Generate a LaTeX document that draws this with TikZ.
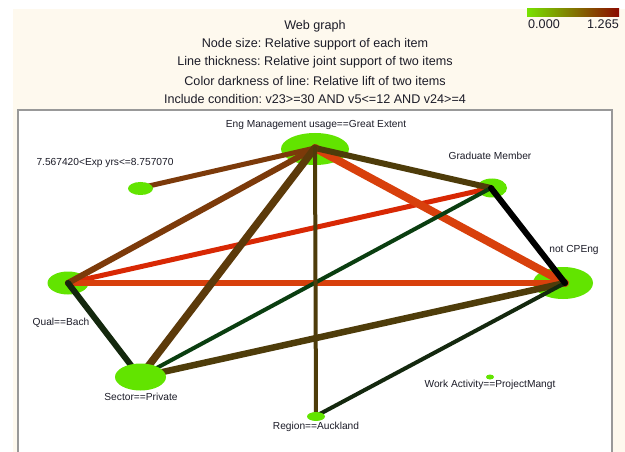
\documentclass[tikz,border=0pt]{standalone}
\usepackage{fontspec}
\setmainfont{Liberation Sans}
\usetikzlibrary{shapes.geometric}
\frenchspacing
\definecolor{cream}{RGB}{254,249,238}
\definecolor{nodegreen}{RGB}{98,228,0}
\definecolor{txt}{RGB}{28,28,40}
\definecolor{brownA}{RGB}{124,58,10}
\definecolor{brownB}{RGB}{92,58,10}
\definecolor{oliveC}{RGB}{78,60,10}
\definecolor{redA}{RGB}{216,40,4}
\definecolor{redB}{RGB}{216,64,12}
\definecolor{dgreenA}{RGB}{10,62,16}
\definecolor{dgreenB}{RGB}{20,40,14}
\definecolor{cbgreen}{RGB}{120,226,0}
\definecolor{cbmid}{RGB}{150,130,10}
\definecolor{cbred}{RGB}{140,10,0}
\tikzset{
  item/.style={ellipse, fill=nodegreen, draw=none, inner sep=0pt},
  lbl/.style={text=txt, font=\fontsize{10.2}{12}\selectfont\frenchspacing, inner sep=0pt},
  ttl/.style={text=txt, font=\fontsize{12.6}{14}\selectfont\frenchspacing, inner sep=0pt},
  edge/.style={line cap=round},
}
\begin{document}
\begin{tikzpicture}[x=1pt,y=-1pt]
\useasboundingbox (0,0) rectangle (625,452);
\fill[white] (0,0) rectangle (625,452);
\fill[cream] (13,9) rectangle (625,452);
\fill[white] (18,110) rectangle (612,452);
\draw[gray!80, line width=1.3pt] (18,452) -- (18,110) -- (612,110) -- (612,452);

% title
\node[ttl] (t1) at (315,26) {Web graph};
\node[ttl] (t2) at (315,44) {Node size: Relative support of each item};
\node[ttl] (t3) at (315,62) {Line thickness: Relative joint support of two items};
\node[ttl] (t4) at (315,81) {Color darkness of line: Relative lift of two items};
\node[ttl] (t5) at (315,99) {Include condition: v23>=30 AND v5<=12 AND v24>=4};

% colour bar
\shade[left color=cbgreen, middle color=cbmid, right color=cbred] (527,9) rectangle (619,17);
\node[ttl] (c0) at (544,24) {0.000};
\node[ttl] (c1) at (603,24) {1.265};

% nodes below edges
\node[item, minimum width=68pt, minimum height=32pt] (eng) at (315,149) {};
\node[item, minimum width=30pt, minimum height=19pt] (grad) at (492,188) {};
\node[item, minimum width=60pt, minimum height=32pt] (cpe) at (563,283) {};
\node[item, minimum width=41pt, minimum height=23pt] (qual) at (68,283) {};
\node[item, minimum width=8pt, minimum height=5pt] (work) at (490,377) {};

% hub coordinates
\coordinate (engh) at (315,148);
\coordinate (gradh) at (491,188);
\coordinate (cpeh) at (565,283);
\coordinate (qualh) at (68,283);
\coordinate (exph) at (140,188);
\coordinate (sech) at (140,377);
\coordinate (regh) at (316,416);

% edges
\draw[edge, redA, line width=5pt] (qualh) -- (gradh);
\draw[edge, redB, line width=6.5pt] (qualh) -- (cpeh);
\draw[edge, redB, line width=8pt] (engh) -- (cpeh);
\draw[edge, brownA, line width=5pt] (exph) -- (engh);
\draw[edge, brownA, line width=6pt] (qualh) -- (engh);
\draw[edge, dgreenB, line width=6pt] (qualh) -- (sech);
\draw[edge, oliveC, line width=6pt] (engh) -- (gradh);
\draw[edge, dgreenA, line width=4pt] (sech) -- (gradh);
\draw[edge, oliveC, line width=6.5pt] (sech) -- (cpeh);
\draw[edge, brownB, line width=7.5pt] (sech) -- (engh);
\draw[edge, oliveC, line width=4pt] (engh) -- (regh);
\draw[edge, dgreenB, line width=4pt] (regh) -- (cpeh);
\draw[edge, black, line width=6pt] (gradh) -- (cpeh);

% nodes above edges
\node[item, minimum width=25pt, minimum height=13pt] (exp) at (140.5,188.5) {};
\node[item, minimum width=51pt, minimum height=27pt] (sec) at (140.5,377) {};
\node[item, minimum width=18pt, minimum height=9pt] (reg) at (316,416.5) {};

% labels
\node[lbl] (lEng) at (316,125) {Eng Management usage==Great Extent};
\node[lbl] (lExp) at (105,163) {7.567420<Exp yrs<=8.757070};
\node[lbl] (lGrad) at (490,156) {Graduate Member};
\node[lbl] (lCpe) at (574,250) {not CPEng};
\node[lbl] (lQual) at (61,323) {Qual==Bach};
\node[lbl] (lSec) at (141,397) {Sector==Private};
\node[lbl] (lReg) at (316,427) {Region==Auckland};
\node[lbl] (lWork) at (490,385) {Work Activity==ProjectMangt};
\end{tikzpicture}
\end{document}
